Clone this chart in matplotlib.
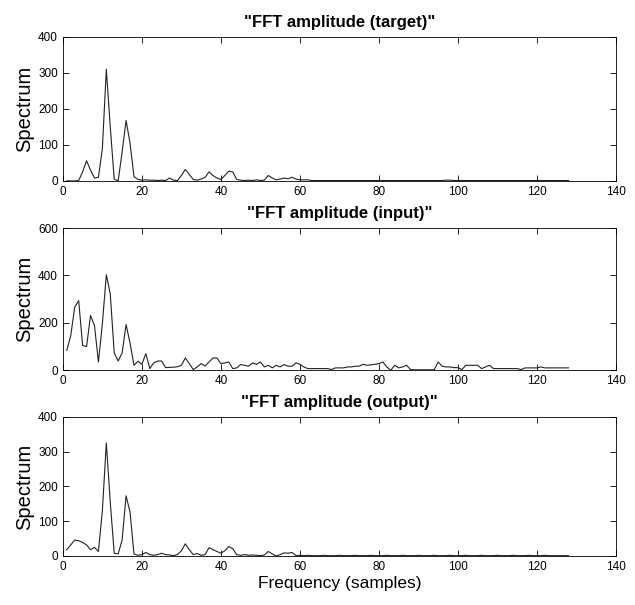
import numpy as np
import matplotlib
matplotlib.use("Agg")
import matplotlib.pyplot as plt

# frequency bins 1..128
freq = np.arange(1, 129)

target_head = [0, 0, 0, 1, 25, 56, 30, 8, 10, 90, 310, 150, 5, 0, 80, 168, 105, 12, 4, 2,
               3, 2, 2, 1, 2, 1, 8, 2, 1, 15, 32, 18, 4, 2, 5, 10, 25, 15, 8, 4,
               15, 27, 25, 4, 2, 1, 2, 1, 3, 1, 2, 15, 8, 3, 5, 8, 6, 10, 5, 3,
               3, 3]
target = target_head + [1] * 34 + [2, 2, 1, 1] + [1] * 28

input_sig = [84, 147, 266, 294, 105, 100, 231, 189, 35, 196, 403, 322, 73, 39, 73, 193, 115, 21, 38, 25,
             70, 7, 31, 39, 39, 11, 12, 13, 15, 21, 52, 28, 3, 14, 28, 18, 35, 52, 52, 28,
             31, 35, 7, 10, 24, 21, 17, 31, 25, 35, 14, 21, 10, 21, 14, 24, 17, 17, 31, 25,
             14, 7, 7, 7, 7, 7, 7, 3, 10, 10, 10, 14, 14, 17, 17, 25, 21, 23, 25, 28,
             35, 14, 0, 21, 10, 14, 21, 3, 2, 2, 2, 2, 2, 2, 35, 17, 14, 14, 11, 11,
             3, 21, 21, 21, 21, 7, 14, 21, 7, 7, 7, 7, 7, 7, 7, 3, 10, 10, 10, 10,
             14, 10, 10, 10, 10, 10, 10, 10]

output_head = [18, 32, 46, 44, 39, 32, 18, 25, 13, 130, 325, 154, 8, 6, 46, 173, 126, 6, 2, 4,
               10, 4, 2, 4, 8, 4, 3, 1, 4, 15, 35, 18, 4, 7, 2, 4, 24, 18, 13, 8,
               15, 27, 21, 4, 2, 4, 2, 3, 2, 1, 3, 13, 6, 0, 4, 9, 8, 10, 1, 2]
output = output_head + [1, 2, 1, 1, 1, 2, 1, 1] * 8 + [1, 1, 1, 1]

titles = ['"FFT amplitude (target)"', '"FFT amplitude (input)"', '"FFT amplitude (output)"']
series = [target, input_sig, output]
ylims = [400, 600, 400]
yticks = [[0, 100, 200, 300, 400], [0, 200, 400, 600], [0, 100, 200, 300, 400]]

plt.rcParams['font.family'] = ['Liberation Sans', 'DejaVu Sans']

fig = plt.figure(figsize=(6.35, 6.05), dpi=100)
rects = [[0.099, 0.701, 0.871, 0.238],
         [0.099, 0.388, 0.871, 0.235],
         [0.099, 0.081, 0.871, 0.230]]

for i in range(3):
    ax = fig.add_axes(rects[i])
    ax.plot(freq, series[i], color="#222222", lw=0.8)
    ax.set_xlim(0, 140)
    ax.set_ylim(0, ylims[i])
    ax.set_xticks(range(0, 141, 20))
    ax.set_yticks(yticks[i])
    ax.tick_params(direction="in", top=True, right=True, labelsize=8.5, length=4, width=0.6)
    for s in ax.spines.values():
        s.set_linewidth(0.6)
    ax.set_title(titles[i], fontsize=12, fontweight="bold", pad=7)
    ax.set_ylabel("Spectrum", fontsize=14.5, labelpad=3)

ax.set_xlabel("Frequency (samples)", fontsize=12.5, labelpad=2)

fig.savefig("out.png", dpi=100)
